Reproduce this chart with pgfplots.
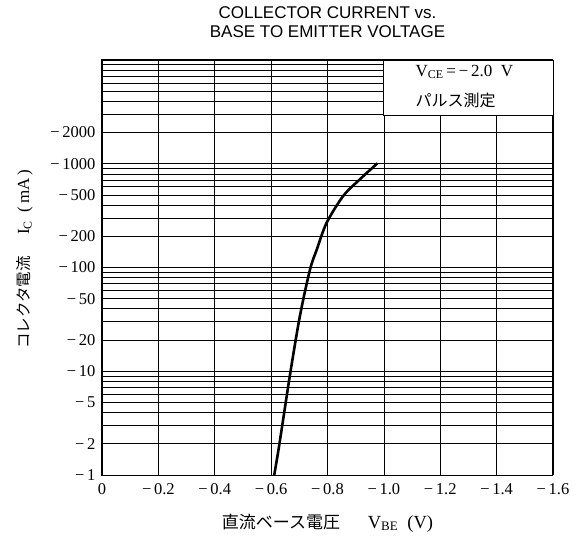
\documentclass[border=0pt]{standalone}
\usepackage{pgfplots}
\pgfplotsset{compat=1.18}
\usepackage{fontspec}
\setmainfont{Liberation Serif}
\newfontfamily\titlefont{Liberation Sans}
\newfontfamily\jp{Noto Sans CJK JP}

\begin{document}
\begin{tikzpicture}
\begin{axis}[
  scale only axis, width=451pt, height=415pt,
  ymode=log, ymin=1, ymax=10000,
  xmin=-1.6, xmax=0, x dir=reverse,
  xtick={0,-0.2,-0.4,-0.6,-0.8,-1.0,-1.2,-1.4,-1.6},
  xticklabels={0,−\,0.2,−\,0.4,−\,0.6,−\,0.8,−\,1.0,−\,1.2,−\,1.4,−\,1.6},
  ytick={1,2,3,4,5,6,7,8,9,10,20,30,40,50,60,70,80,90,100,200,300,400,500,600,700,800,900,1000,2000,3000,4000,5000,6000,7000,8000,9000,10000},
  yticklabels={−\,1,−\,2,{},{},−\,5,{},{},{},{},−\,10,−\,20,{},{},−\,50,{},{},{},{},−\,100,−\,200,{},{},−\,500,{},{},{},{},−\,1000,−\,2000,{},{},{},{},{},{},{},{}},
  major tick length=0pt,
  grid=major,
  major grid style={black, line width=0.6pt},
  axis line style={line width=1pt},
  tick label style={font=\fontsize{16.5}{16.5}\selectfont},
  xticklabel style={yshift=-5pt},
  yticklabel style={xshift=-3pt},
  title={COLLECTOR CURRENT vs.\\BASE TO EMITTER VOLTAGE},
  title style={font=\titlefont\fontsize{17}{19}\selectfont, align=center, at={(axis description cs:0.5,1)}, anchor=south, yshift=13pt},
  xlabel={{\jp\fontsize{17}{17}\selectfont 直流ベース電圧}\quad\ \ V\textsubscript{BE}\ \ (V)},
  xlabel style={font=\fontsize{18.5}{18.5}\selectfont, at={(axis description cs:0.5,0)}, anchor=center, yshift=-48pt},
  ylabel={{\jp\fontsize{15.5}{15.5}\selectfont コレクタ電流}\quad\ I\textsubscript{C}\ \ (\,mA\,)},
  ylabel style={font=\fontsize{17}{17}\selectfont, at={(axis description cs:-0.172,0.52)}, anchor=center},
]
\addplot[black, line width=2.6pt, smooth] coordinates {
  (-0.611,1) (-0.628,1.88) (-0.667,9.25) (-0.702,33.9) (-0.738,95.6)
  (-0.762,149) (-0.797,270) (-0.856,490) (-0.915,708) (-0.977,1010)
};
\draw[fill=white, line width=0.8pt] (axis cs:-1.0,2900) rectangle (axis cs:-1.6,10000);
\node[anchor=west, font=\fontsize{17}{17}\selectfont] at (axis cs:-1.1,7660) {V\textsubscript{CE}\,=\,−\,2.0\ \ V};
\node[anchor=west, font=\jp\fontsize{16}{16}\selectfont] at (axis cs:-1.1,4110) {パルス測定};
\end{axis}
\pgfresetboundingbox
\path (-102pt,-66pt) rectangle (474pt,475pt);
\end{tikzpicture}
\end{document}
